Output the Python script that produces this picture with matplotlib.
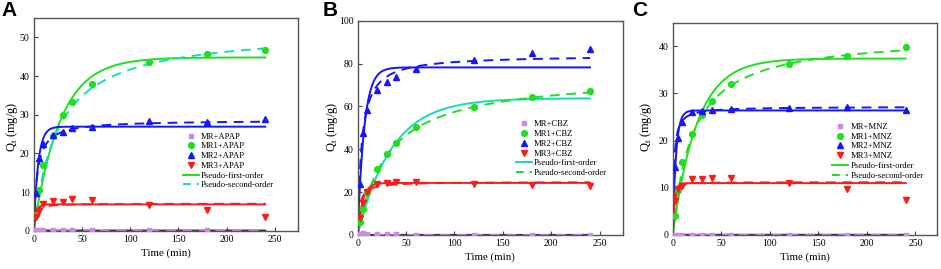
import numpy as np
import matplotlib
matplotlib.use("Agg")
import matplotlib.pyplot as plt

plt.rcParams["font.family"] = ["Liberation Serif", "DejaVu Serif"]

# sampling times (min)
t_obs = [2, 5, 10, 20, 30, 40, 60, 120, 180, 240]

# panel A - APAP
apap_mr = [0.2, 0.2, 0.2, 0.2, 0.2, 0.2, 0.2, 0.2, 0.2, np.nan]
apap_mr1 = [4.0, 10.5, 17.0, 24.5, 29.8, 33.3, 37.9, 43.6, 45.7, 46.7]
apap_mr2 = [9.7, 18.7, 22.4, 24.7, 25.6, 26.5, 26.9, 28.4, 28.2, 28.8]
apap_mr3 = [3.5, 5.2, 6.8, 7.7, 7.5, 8.1, 7.9, 6.7, 5.4, 3.6]

# panel B - CBZ
cbz_mr = [0.3, 1.1, 0.4, 0.3, 0.3, 0.3, 0.2, 0.2, 0.2, 0.2]
cbz_mr1 = [6.0, 12.0, 20.0, 30.7, 37.7, 42.8, 50.3, 59.6, 64.5, 67.0]
cbz_mr2 = [24.0, 47.7, 58.3, 67.7, 71.6, 73.6, 77.3, 81.7, 84.8, 86.6]
cbz_mr3 = [8.0, 15.1, 20.2, 23.7, 24.1, 24.9, 24.9, 24.0, 23.5, 23.0]

# panel C - MNZ
mnz_mr = [0.1, 0.1, 0.1, 0.1, 0.1, 0.1, 0.1, 0.1, 0.1, 0.1]
mnz_mr1 = [4.0, 9.5, 15.4, 21.5, 25.5, 28.4, 32.0, 36.3, 38.0, 39.9]
mnz_mr2 = [14.4, 20.5, 24.0, 26.1, 26.3, 26.6, 26.8, 27.0, 27.2, 26.4]
mnz_mr3 = [7.3, 9.8, 10.3, 11.8, 11.9, 12.1, 12.0, 11.0, 9.7, 7.5]

# fitted kinetic parameters: (qe, k1) and (qe, k2)
pfo_params = {
    "A": [(0.05, 0.3), (44.8, 0.0366), (26.9, 0.22), (6.8, 0.4)],
    "B": [(0.05, 0.3), (63.8, 0.0286), (78.2, 0.15), (24.3, 0.2)],
    "C": [(0.05, 0.3), (37.4, 0.04), (26.4, 0.3), (11.0, 0.45)],
}
pso_params = {
    "A": [(0.05, 5.0), (52.0, 0.000777), (28.6, 0.0098), (7.0, 0.1)],
    "B": [(0.05, 5.0), (75.0, 0.000436), (84.0, 0.0029), (24.8, 0.02)],
    "C": [(0.05, 5.0), (42.5, 0.00115), (27.2, 0.03), (11.2, 0.2)],
}

drugs = {"A": "APAP", "B": "CBZ", "C": "MNZ"}
obs = {
    "A": [apap_mr, apap_mr1, apap_mr2, apap_mr3],
    "B": [cbz_mr, cbz_mr1, cbz_mr2, cbz_mr3],
    "C": [mnz_mr, mnz_mr1, mnz_mr2, mnz_mr3],
}

purple = "#cc88ee"
green = "#1ee01e"
blue = "#1515ff"
red = "#ff1a1a"
teal = "#10e0b0"

colors = [purple, green, blue, red]
markers = ["s", "o", "^", "v"]
msizes = [3.0, 4.2, 4.2, 4.2]
# colour of MR1 pfo / pso curves differs by panel
mr1_cols = {"A": (green, teal), "B": (teal, green), "C": (green, green)}

axes_pos = {
    "A": [0.0358, 0.1424, 0.2809, 0.7907],
    "B": [0.3801, 0.1264, 0.2819, 0.7967],
    "C": [0.7149, 0.1264, 0.2806, 0.7892],
}
ylims = {"A": (0, 55), "B": (0, 100), "C": (0, 45)}
yticks = {"A": range(0, 51, 10), "B": range(0, 101, 20), "C": range(0, 41, 10)}
xlims = {"A": 274, "B": 274, "C": 272}
leg_anchor = {"A": (0.565, 0.328), "B": (0.597, 0.402), "C": (0.604, 0.394)}
panel_lbl_x = {"A": 0.002, "B": 0.343, "C": 0.672}
ylab_x = {"A": 0.013, "B": 0.353, "C": 0.687}

t_fit = np.linspace(0, 240, 600)

fig = plt.figure(figsize=(9.41, 2.69), dpi=100)

for key in ["A", "B", "C"]:
    ax = fig.add_axes(axes_pos[key])
    drug = drugs[key]
    handles = []
    for i in range(4):
        qe1, k1 = pfo_params[key][i]
        qe2, k2 = pso_params[key][i]
        pfo = qe1 * (1 - np.exp(-k1 * t_fit))
        pso = k2 * qe2 ** 2 * t_fit / (1 + k2 * qe2 * t_fit)
        if i == 0:
            c1, c2 = "#333333", purple
        elif i == 1:
            c1, c2 = mr1_cols[key]
        else:
            c1 = c2 = colors[i]
        ax.plot(t_fit, pfo, color=c1, lw=1.4, zorder=2)
        ax.plot(t_fit, pso, color=c2, lw=1.4, ls=(0, (5, 3.5)), zorder=2)
        h, = ax.plot(t_obs, obs[key][i], ls="none", marker=markers[i],
                     ms=msizes[i], color=colors[i], mec=colors[i], zorder=3,
                     label=["MR", "MR1", "MR2", "MR3"][i] + "+" + drug)
        handles.append(h)

    c1, c2 = mr1_cols[key]
    h_pfo, = ax.plot([], [], color=c1, lw=1.4, label="Pseudo-first-order")
    h_pso, = ax.plot([], [], color=c2, lw=1.4, ls=(0, (4, 3)), label="Pseudo-second-order")
    handles += [h_pfo, h_pso]

    ax.legend(handles=handles, loc="center left", bbox_to_anchor=leg_anchor[key],
              frameon=False, fontsize=6.2, borderpad=0, borderaxespad=0,
              handlelength=1.8, handletextpad=0.3, labelspacing=0.2)

    ax.set_xlim(0, xlims[key])
    ax.set_ylim(*ylims[key])
    ax.set_xticks(range(0, 251, 50))
    ax.set_yticks(list(yticks[key]))
    ax.tick_params(direction="in", length=3, width=0.8, labelsize=7, pad=3,
                   color="#444444")
    for sp in ax.spines.values():
        sp.set_color("#555555")
        sp.set_linewidth(1.0)
    ax.set_xlabel("Time (min)", fontsize=7.8, labelpad=3)
    fig.text(ylab_x[key], 0.53, r"Q$_\mathregular{t}$ (mg/g)", rotation=90,
             fontsize=9, ha="center", va="center")
    fig.text(panel_lbl_x[key], 0.995, key, fontsize=15, fontweight="bold",
             family="Liberation Sans", ha="left", va="top")

fig.savefig("out.png", dpi=100)
